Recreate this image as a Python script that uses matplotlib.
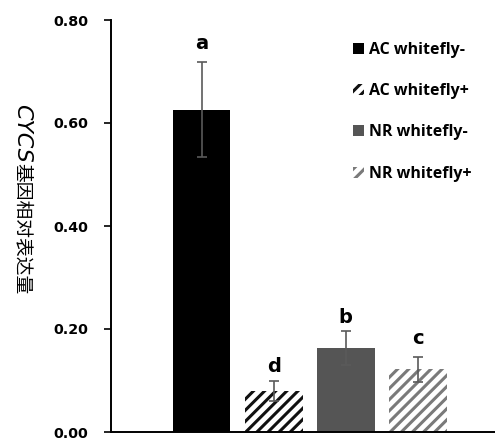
import matplotlib
matplotlib.use("Agg")
import matplotlib.pyplot as plt
from matplotlib.patches import Patch

plt.rcParams['font.family'] = ['Open Sans', 'Noto Sans CJK SC', 'DejaVu Sans']
plt.rcParams['hatch.linewidth'] = 2.2

categories = ["AC whitefly-", "AC whitefly+", "NR whitefly-", "NR whitefly+"]
values = [0.626, 0.080, 0.164, 0.122]
errors = [0.092, 0.019, 0.033, 0.024]
letters = ["a", "d", "b", "c"]
yticks = [0.0, 0.2, 0.4, 0.6, 0.8]

faces = ["#000000", "#ffffff", "#555555", "#ffffff"]
hatch_colors = ["#000000", "#111111", "#555555", "#7a7a7a"]
hatches = [None, "///", None, "///"]

fig = plt.figure(figsize=(4.95, 4.41), dpi=100)
ax = fig.add_axes([111/495, 1-432/441, 1-111/495, (432-20)/441])

x = list(range(len(values)))
for i in x:
    ax.bar(i, values[i], width=0.8, color=faces[i], edgecolor=hatch_colors[i],
           hatch=hatches[i], linewidth=0, zorder=2)
ax.errorbar(x, values, yerr=errors, fmt='none', ecolor='#5a5a5a', elinewidth=1.2,
            capsize=3.5, capthick=1.2, zorder=3)

offsets = [0.026, 0.018, 0.015, 0.025]
for i in x:
    ax.text(i, values[i] + errors[i] + offsets[i], letters[i], ha='center', va='baseline',
            fontsize=14, fontweight='bold', family='DejaVu Sans')

ax.set_xlim(-1.257, 4.07)
ax.set_ylim(0, 0.8)
ax.set_yticks(yticks)
ax.set_yticklabels([f"{t:.2f}" for t in yticks], fontsize=10.3, fontweight='bold',
                   family='DejaVu Sans')
ax.set_xticks([])
ax.spines['top'].set_visible(False)
ax.spines['right'].set_visible(False)
ax.spines['left'].set_linewidth(1.4)
ax.spines['bottom'].set_linewidth(1.4)
ax.tick_params(axis='y', direction='out', length=5, width=1.2, pad=11.5)

handles = [Patch(facecolor=faces[i], edgecolor=hatch_colors[i], hatch=hatches[i], linewidth=0)
           for i in x]
leg = ax.legend(handles, categories, loc='upper left', bbox_to_anchor=((345-111)/384, 1.0 - 14/412),
                frameon=False, handlelength=0.7, handleheight=0.7, handletextpad=0.3,
                labelspacing=1.58, borderpad=0.0,
                prop={'family': 'Open Sans', 'weight': 'bold', 'size': 11.5})

fig.text(22/495, 1-104/441, "CYCS", rotation=270, ha='center', va='top',
         fontsize=16, style='italic', family='DejaVu Sans')
fig.text(23/495, 1-163/441, "基因相对表达量", rotation=270, ha='center', va='top',
         fontsize=13.5, family='Noto Sans CJK SC')

fig.savefig("out.png", dpi=100)
